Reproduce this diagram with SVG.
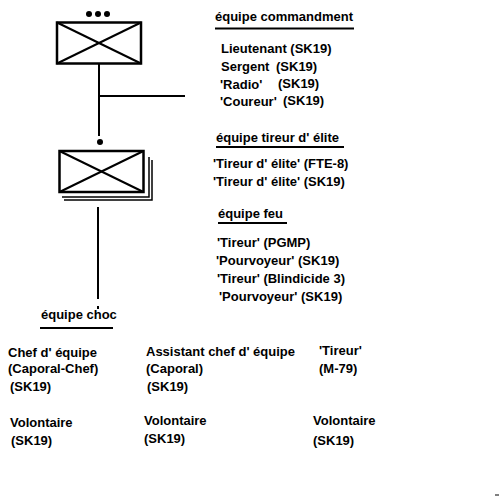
<svg xmlns="http://www.w3.org/2000/svg" width="500" height="500" viewBox="0 0 500 500">
<style>
text{font-family:"Liberation Sans",Arial,sans-serif;font-weight:bold;font-size:13px;fill:#000}
.box{fill:#fff;stroke:#000;stroke-width:2.5}
.x{stroke:#000;stroke-width:2}
.ln{stroke:#000;stroke-width:2;fill:none}
.sh{stroke:#000;stroke-width:1.5;fill:none}
</style>
<rect width="500" height="500" fill="#fff"/>
<g id="connectors">
<line class="ln" x1="99" y1="64" x2="99" y2="136"/>
<line class="ln" x1="99" y1="96" x2="185" y2="96"/>
<line class="ln" x1="98" y1="207" x2="98" y2="299"/>
<line class="ln" x1="98" y1="306" x2="98" y2="309"/>
</g>
<g id="hq">
<circle cx="89" cy="14" r="3"/>
<circle cx="98" cy="14" r="3"/>
<circle cx="107" cy="14" r="3"/>
<rect class="box" x="57" y="22.5" width="84" height="41"/>
<line class="x" x1="57" y1="22.5" x2="141" y2="63.5"/>
<line class="x" x1="57" y1="63.5" x2="141" y2="22.5"/>
</g>
<g id="section">
<circle cx="100" cy="142" r="3"/>
<polyline class="sh" points="62,197 149,197 149,157"/>
<polyline class="sh" points="64,200 152,200 152,160"/>
<rect class="box" x="59.5" y="151" width="84" height="41"/>
<line class="x" x1="59.5" y1="151" x2="143.5" y2="192"/>
<line class="x" x1="59.5" y1="192" x2="143.5" y2="151"/>
</g>
<g id="cmd">
<text x="215" y="21">équipe commandment</text>
<line class="ln" x1="215" y1="28.5" x2="354" y2="28.5"/>
<text x="221" y="53">Lieutenant (SK19)</text>
<text x="221" y="71">Sergent</text><text x="276" y="71">(SK19)</text>
<text x="220" y="89">'Radio'</text><text x="278" y="88">(SK19)</text>
<text x="220" y="106">'Coureur'</text><text x="283" y="105">(SK19)</text>
</g>
<g id="sniper">
<text x="216" y="142">équipe tireur d' élite</text>
<line class="ln" x1="216" y1="147" x2="344" y2="147"/>
<text x="213" y="168">'Tireur d' élite' (FTE-8)</text>
<text x="213" y="186">'Tireur d' élite' (SK19)</text>
</g>
<g id="fire">
<text x="218" y="218">équipe feu</text>
<line class="ln" x1="218" y1="223" x2="287" y2="223"/>
<text x="217" y="247">'Tireur' (PGMP)</text>
<text x="216" y="265">'Pourvoyeur' (SK19)</text>
<text x="217" y="283">'Tireur' (Blindicide 3)</text>
<text x="219" y="301">'Pourvoyeur' (SK19)</text>
</g>
<g id="assault">
<text x="41" y="319">équipe choc</text>
<line class="ln" x1="40" y1="328" x2="113" y2="328"/>
<text x="8" y="357">Chef d' équipe</text>
<text x="8" y="373">(Caporal-Chef)</text>
<text x="10" y="391">(SK19)</text>
<text x="146" y="356">Assistant chef d' équipe</text>
<text x="146" y="373">(Caporal)</text>
<text x="147" y="391">(SK19)</text>
<text x="319" y="355">'Tireur'</text>
<text x="319" y="373">(M-79)</text>
<text x="10" y="427">Volontaire</text>
<text x="11" y="445">(SK19)</text>
<text x="144" y="425">Volontaire</text>
<text x="144" y="443">(SK19)</text>
<text x="313" y="425">Volontaire</text>
<text x="313" y="445">(SK19)</text>
</g>
<line x1="495" y1="495" x2="499" y2="495" stroke="#000" stroke-width="1"/>
</svg>
